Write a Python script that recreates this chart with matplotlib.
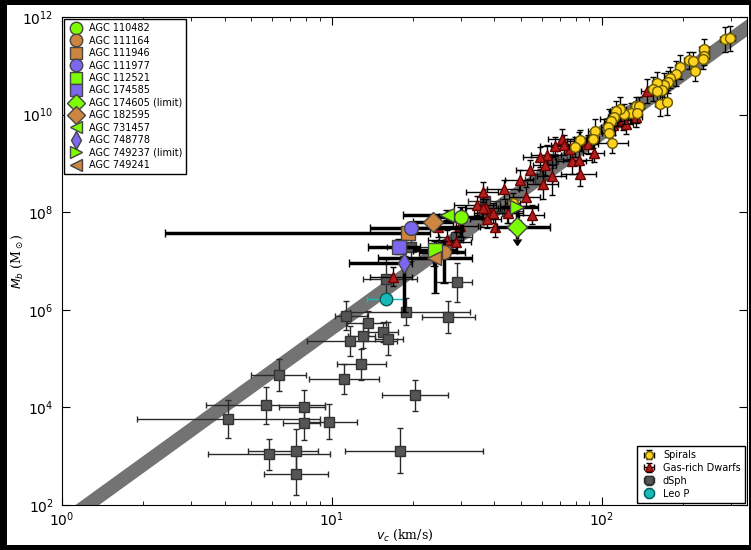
import numpy as np
import matplotlib
matplotlib.use('Agg')
from matplotlib import pyplot as plt
from matplotlib.patches import Rectangle

# Spirals: v_c (km/s), log Mb, error in v, error in log Mb
sp_v = [286, 299, 240, 240, 237, 210, 217, 222, 194, 189, 179, 176, 170, 160, 155, 167, 160, 164,
        174, 134, 137, 128, 121, 117, 113, 111, 108, 105, 106, 109, 94, 93, 83.3, 79.8, 135, 46.8]
sp_m = [11.54, 11.56, 11.34, 11.21, 11.14, 11.11, 11.09, 10.90, 10.98, 10.84, 10.76, 10.67, 10.61,
        10.65, 10.53, 10.50, 10.48, 10.22, 10.25, 10.17, 10.17, 10.03, 10.01, 10.12, 10.07, 9.96,
        9.86, 9.74, 9.63, 9.41, 9.67, 9.51, 9.48, 9.34, 10.03, 8.19]
sp_dv = [12, 12, 10, 10, 8, 8, 8, 8, 8, 8, 7, 7, 7, 7, 7, 7, 7, 7,
         7, 6, 6, 6, 6, 6, 6, 6, 6, 6, 6, 16, 5, 5, 4, 4, 6, 3]
sp_dm = [0.25, 0.25, 0.2, 0.2, 0.2, 0.18, 0.2, 0.22, 0.25, 0.25, 0.22, 0.22, 0.25, 0.22, 0.25, 0.2,
         0.2, 0.25, 0.25, 0.2, 0.2, 0.2, 0.2, 0.25, 0.2, 0.2, 0.22, 0.2, 0.2, 0.2, 0.25, 0.2, 0.2,
         0.2, 0.2, 0.2]

# Gas-rich dwarfs
gd_v = [36.3, 43.4, 52.2, 34.4, 37.3, 36.2, 39.6, 45.0, 55.2, 37.4, 40.3, 29.7, 24.7, 26.7, 28.7,
        16.8, 147.5, 106.4, 117.1, 119.5, 110.2, 123, 133.3, 71.1, 67.1, 72.7, 76.4, 62.8, 82.6,
        89.1, 93.5, 58.9, 77.5, 82.1, 82.8, 65.4, 60.7, 49.7, 54.1, 61.5]
gd_m = [8.41, 8.47, 8.32, 8.14, 8.08, 8.08, 7.98, 7.98, 7.95, 7.87, 7.70, 7.72, 7.70, 7.44, 7.39,
        6.68, 10.48, 9.92, 9.96, 9.89, 9.79, 9.80, 9.95, 9.51, 9.35, 9.38, 9.29, 9.18, 9.45, 9.39,
        9.22, 9.13, 9.04, 9.06, 8.79, 8.75, 8.58, 8.66, 8.86, 8.97]
gd_dv = [5, 6, 7, 6, 6, 5, 6, 6, 6, 5, 5, 5, 4, 4, 4, 3, 8, 8, 8, 8, 8, 8, 8, 8, 8, 8, 8, 8, 8,
         8, 8, 8, 10, 10, 12, 8, 8, 6, 6, 6]
gd_dm = [0.2] * 16 + [0.25] + [0.2] * 15 + [0.25, 0.25, 0.25, 0.4, 0.3, 0.2, 0.2, 0.2]

# dSph: v, log Mb, v lower, v upper, error in log Mb
ds_v = [11.3, 13.6, 18.8, 26.9, 13.0, 15.5, 16.2, 11.7, 12.8, 6.35, 11.1, 20.4, 5.68, 7.89, 4.13,
        7.87, 9.77, 5.83, 7.38, 17.9, 7.38, 15.8, 29.0, 19.6, 28.8, 36.9, 44.5, 65.9, 58.9]
ds_m = [5.88, 5.72, 5.96, 5.86, 5.47, 5.55, 5.41, 5.36, 4.88, 4.66, 4.58, 4.25, 4.04, 4.01, 3.76,
        3.68, 3.71, 3.04, 3.11, 3.11, 2.63, 6.64, 6.56, 7.29, 7.50, 8.22, 8.02, 9.10, 8.68]
ds_vlo = [10.3, 11.4, 11.7, 21.6, 11.5, 13.6, 14.4, 8.1, 10.4, 5.0, 8.2, 15.3, 3.41, 6.36, 1.89,
          6.6, 8.1, 3.46, 4.9, 11.2, 5.6, 13.0, 24, 16, 25, 32, 38, 58, 52]
ds_vhi = [13.5, 15.9, 32.4, 33.8, 14.5, 17.6, 18.3, 17.4, 15.8, 8.05, 15.0, 27.0, 9.4, 9.4, 9.0,
          9.0, 12.4, 9.8, 8.9, 36.3, 9.7, 20.6, 33, 24, 33, 42, 51, 74, 66]
ds_dm = [0.3, 0.25, 0.28, 0.33, 0.25, 0.2, 0.33, 0.3, 0.32, 0.33, 0.3, 0.32, 0.37, 0.35, 0.39,
         0.34, 0.36, 0.32, 0.44, 0.46, 0.43, 0.4, 0.4, 0.3, 0.3, 0.25, 0.25, 0.2, 0.2]

# Leo P
leo_v, leo_m, leo_vlo, leo_vhi, leo_dm = 15.8, 6.22, 13.5, 18.5, 0.1

# SHIELD galaxies
agc_names = ['AGC 110482', 'AGC 111164', 'AGC 111946', 'AGC 111977', 'AGC 112521', 'AGC 174585',
             'AGC 174605 (limit)', 'AGC 182595', 'AGC 731457', 'AGC 748778',
             'AGC 749237 (limit)', 'AGC 749241']
agc_v = [30.0, 26.1, 19.1, 19.6, 24.1, 17.7, 48.3, 23.6, 26.7, 18.5, 48.3, 23.9]
agc_m = [7.91, 7.19, 7.57, 7.67, 7.23, 7.29, 7.70, 7.79, 7.94, 6.95, 8.11, 7.06]
agc_vlo = [25, 21, 2.4, 13.8, 20, 13.6, 40.9, 20, 18.3, 11.6, 42, 14.8]
agc_vhi = [36, 31, 23, 30.5, 29, 21.2, 64, 28, 29.8, 19.8, 58, 33]
agc_mlo = [7.50, 6.55, 7.45, 7.55, 6.34, 7.15, 7.45, 7.65, 7.85, 5.95, 7.85, 6.90]
agc_mhi = [8.10, 7.40, 7.70, 7.80, 7.40, 7.45, 7.70, 7.95, 8.05, 7.10, 8.11, 7.25]
agc_limit = [False, False, False, False, False, False, True, False, False, False, True, False]
agc_marker = ['o', 'o', 's', 'o', 's', 's', 'D', 'D', '<', 'd', '>', '<']
agc_color = ['#7cfc00', '#cd853f', '#cd853f', '#7b68ee', '#7cfc00', '#7b68ee', '#7cfc00',
             '#cd853f', '#7cfc00', '#7b68ee', '#7cfc00', '#cd853f']

# baryonic Tully-Fisher band: log Mb = logA + 4 log v
btf_slope = 4.0
btf_loga = (1.45, 1.80)

fig = plt.figure(figsize=(7.51, 5.5), dpi=100)
fig.patch.set_facecolor('black')
bg = Rectangle((7 / 751, 5 / 550), 742 / 751, 540 / 550, transform=fig.transFigure,
               facecolor='white', edgecolor='none', zorder=-10)
fig.patches.append(bg)
ax = fig.add_axes([62 / 751, 45 / 550, 685 / 751, 488 / 550], zorder=5)
ax.set_xscale('log')
ax.set_yscale('log')

vv = np.logspace(-0.1, 2.7, 50)
ax.fill_between(vv, 10 ** (btf_loga[0] + btf_slope * np.log10(vv)),
                10 ** (btf_loga[1] + btf_slope * np.log10(vv)), color='0.45', lw=0, zorder=1)

def yerr(m, lo, hi):
    m = np.array(m)
    return [10 ** m - 10 ** (np.array(lo)), 10 ** np.array(hi) - 10 ** m]

ds_m_arr = np.array(ds_m)
ax.errorbar(ds_v, 10 ** ds_m_arr,
            xerr=[np.array(ds_v) - np.array(ds_vlo), np.array(ds_vhi) - np.array(ds_v)],
            yerr=yerr(ds_m, ds_m_arr - np.array(ds_dm), ds_m_arr + np.array(ds_dm)),
            fmt='s', color='#555555', mec='#333333', ms=6.5, ecolor='#2a2a2a', elinewidth=1,
            capsize=2.5, zorder=3, label='dSph')

gd_m_arr = np.array(gd_m)
ax.errorbar(gd_v, 10 ** gd_m_arr, xerr=gd_dv,
            yerr=yerr(gd_m, gd_m_arr - np.array(gd_dm), gd_m_arr + np.array(gd_dm)),
            fmt='^', color='#b01e1e', mec='#6a0000', ms=6.5, ecolor='black', elinewidth=1,
            capsize=2.5, zorder=4, label='Gas-rich Dwarfs')

sp_m_arr = np.array(sp_m)
ax.errorbar(sp_v, 10 ** sp_m_arr, xerr=sp_dv,
            yerr=yerr(sp_m, sp_m_arr - np.array(sp_dm), sp_m_arr + np.array(sp_dm)),
            fmt='o', color='#ffd21f', mec='#6a5a00', ms=7, ecolor='black', elinewidth=1,
            capsize=2.5, zorder=5, label='Spirals')

ax.errorbar([leo_v], [10 ** leo_m], xerr=[[leo_v - leo_vlo], [leo_vhi - leo_v]],
            yerr=yerr([leo_m], [leo_m - leo_dm], [leo_m + leo_dm]),
            fmt='o', color='#19b8b8', mec='#0a5a5a', ms=9, ecolor='#19b8b8', elinewidth=1,
            capsize=2.5, zorder=6, label='Leo P')

agc_handles = []
for i in range(len(agc_names)):
    v = agc_v[i]
    m = 10 ** agc_m[i]
    eb = ax.errorbar([v], [m], xerr=[[v - agc_vlo[i]], [agc_vhi[i] - v]],
                     yerr=[[m - 10 ** agc_mlo[i]], [10 ** agc_mhi[i] - m]],
                     fmt='none', ecolor='black', elinewidth=2.5, capsize=3, zorder=7,
                     uplims=agc_limit[i])
    for cl in eb[1]:
        cl.set_color('black')
        cl.set_markerfacecolor('black')
        cl.set_markeredgecolor('black')
    h, = ax.plot([v], [m], agc_marker[i], color=agc_color[i], mec='#444444', ms=10, zorder=8,
                 label=agc_names[i])
    agc_handles.append(h)

ax.set_xlim(1, 345)
ax.set_ylim(1e2, 1e12)
ax.tick_params(which='both', direction='in', top=True, right=True, labelsize=10)
ax.tick_params(axis='y', pad=6)
ax.tick_params(axis='x', pad=4)
ax.tick_params(which='major', length=6)
ax.tick_params(which='minor', length=3)
ax.set_xlabel(r'$v_c$ (km/s)', family='DejaVu Serif', fontsize=9)
ax.set_ylabel(r'$M_b$ (M$_\odot$)', family='DejaVu Serif', fontsize=9)
ax.xaxis.set_label_coords(0.5, -0.046)
ax.yaxis.set_label_coords(-0.054, 0.5)

leg1 = ax.legend(handles=agc_handles, loc='upper left', fontsize=7, numpoints=1,
                 fancybox=False, edgecolor='black', framealpha=1, borderaxespad=0.25,
                 labelspacing=0.25, handletextpad=0.5, handlelength=1.6, borderpad=0.4,
                 markerscale=0.9)
leg1.get_frame().set_linewidth(1)
ax.add_artist(leg1)
hs, ls = ax.get_legend_handles_labels()
order = ['Spirals', 'Gas-rich Dwarfs', 'dSph', 'Leo P']
hd = dict(zip(ls, hs))
leg2 = ax.legend([hd[k] for k in order], order, loc='lower right', fontsize=7, numpoints=1,
                 fancybox=False, edgecolor='black', framealpha=1, borderaxespad=0.25,
                 labelspacing=0.3, handletextpad=0.5, handlelength=1.8, borderpad=0.4,
                 markerscale=0.8)
leg2.get_frame().set_linewidth(1)

fig.savefig('out.png', dpi=100, facecolor=fig.get_facecolor())
